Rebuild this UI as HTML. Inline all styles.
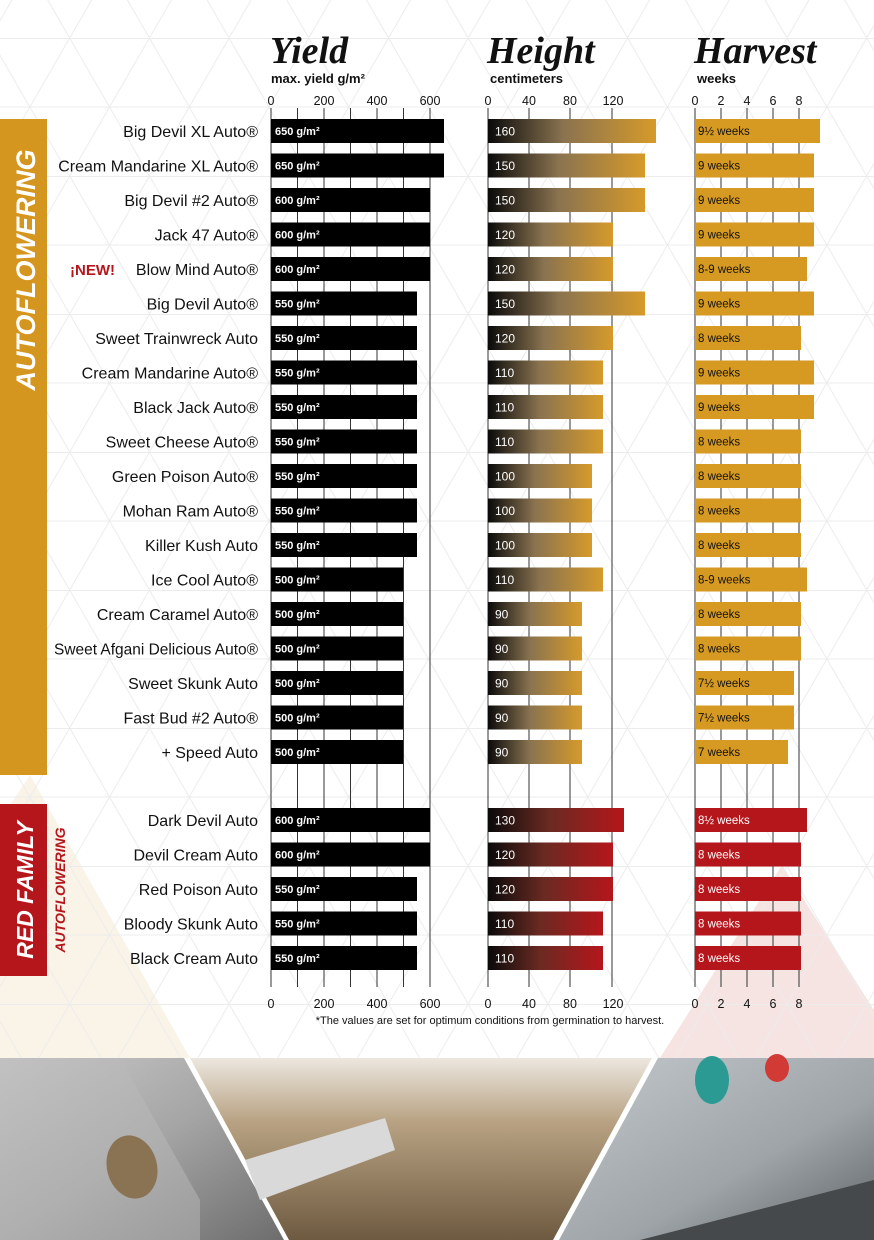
<!DOCTYPE html>
<html><head><meta charset="utf-8"><style>
html,body{margin:0;padding:0;background:#fff}
svg{display:block}
.lab{font-family:"Liberation Sans",sans-serif;font-size:16px;fill:#111;text-anchor:end}
.bv{font-family:"Liberation Sans",sans-serif;font-size:11px;font-weight:bold;fill:#fff}
.hv{font-family:"Liberation Sans",sans-serif;font-size:12px;fill:#fff}
.wv{font-family:"Liberation Sans",sans-serif;font-size:11.5px;fill:#111}
.wr{font-family:"Liberation Sans",sans-serif;font-size:11.5px;fill:#fff}
.tk{font-family:"Liberation Sans",sans-serif;font-size:12.5px;fill:#111;text-anchor:middle}
.ttl{font-family:"Liberation Serif",serif;font-style:italic;font-weight:bold;font-size:38px;fill:#111}
.sub{font-family:"Liberation Sans",sans-serif;font-weight:bold;font-size:13px;fill:#111}
</style></head><body>
<svg width="874" height="1240" viewBox="0 0 874 1240" xmlns="http://www.w3.org/2000/svg">
<defs>
<pattern id="tri" x="-10" y="38" width="79.7" height="138" patternUnits="userSpaceOnUse">
<path d="M0 138L79.7 0M0 0L79.7 138M0 0.5H79.7M0 69H79.7" stroke="#ececec" stroke-width="1" fill="none"/>
</pattern>
<linearGradient id="gy" x1="0" x2="1"><stop offset="0" stop-color="#0a0a0a"/><stop offset="0.45" stop-color="#8a7350"/><stop offset="1" stop-color="#d69a2a"/></linearGradient>
<linearGradient id="gr" x1="0" x2="1"><stop offset="0" stop-color="#0a0a0a"/><stop offset="0.45" stop-color="#6a2a22"/><stop offset="1" stop-color="#b5161b"/></linearGradient>
<linearGradient id="p1" x1="0" y1="0" x2="1" y2="1"><stop offset="0" stop-color="#c9c9c9"/><stop offset="0.5" stop-color="#a5a5a5"/><stop offset="1" stop-color="#6d6d6d"/></linearGradient>
<linearGradient id="p2" x1="0" y1="0" x2="0" y2="1"><stop offset="0" stop-color="#ece7df"/><stop offset="0.35" stop-color="#b8a283"/><stop offset="1" stop-color="#6e5a40"/></linearGradient>
<linearGradient id="p3" x1="0" y1="0" x2="1" y2="1"><stop offset="0" stop-color="#c3c8cc"/><stop offset="0.6" stop-color="#9ea4a8"/><stop offset="1" stop-color="#5d6266"/></linearGradient>
</defs>
<rect width="874" height="1240" fill="#fff"/>
<polygon points="30,775 190,1058 0,1058 0,820" fill="#faf3e8"/>
<polygon points="782,865 874,1010 874,1058 660,1058" fill="#f6e4e2"/>
<rect width="874" height="1058" fill="url(#tri)"/>

<text class="ttl" x="270" y="63">Yield</text>
<text class="sub" x="271" y="83">max. yield g/m²</text>
<text class="ttl" x="487" y="63">Height</text>
<text class="sub" x="490" y="83">centimeters</text>
<text class="ttl" x="694" y="63">Harvest</text>
<text class="sub" x="697" y="83">weeks</text>

<g class="tk">
<text x="271" y="105">0</text><text x="324" y="105">200</text><text x="377" y="105">400</text><text x="430" y="105">600</text>
<text x="488" y="105">0</text><text x="529" y="105">40</text><text x="570" y="105">80</text><text x="613" y="105">120</text>
<text x="695" y="105">0</text><text x="721" y="105">2</text><text x="747" y="105">4</text><text x="773" y="105">6</text><text x="799" y="105">8</text>
<text x="271" y="1008">0</text><text x="324" y="1008">200</text><text x="377" y="1008">400</text><text x="430" y="1008">600</text>
<text x="488" y="1008">0</text><text x="529" y="1008">40</text><text x="570" y="1008">80</text><text x="613" y="1008">120</text>
<text x="695" y="1008">0</text><text x="721" y="1008">2</text><text x="747" y="1008">4</text><text x="773" y="1008">6</text><text x="799" y="1008">8</text>
</g>
<text x="490" y="1024" text-anchor="middle" font-family="Liberation Sans,sans-serif" font-size="11px" fill="#111">*The values are set for optimum conditions from germination to harvest.</text>

<g stroke="#333" stroke-width="1">
<path d="M271 108V987M297.5 108V987M324 108V987M350.5 108V987M377 108V987M403.5 108V987M430 108V987"/>
<path d="M488 108V987M529 108V987M570 108V987M612 108V987"/>
<path d="M695 108V987M721 108V987M747 108V987M773 108V987M799 108V987"/>
</g>

<rect x="0" y="119" width="47" height="656" fill="#d4961f"/>
<text transform="translate(35,270) rotate(-90)" text-anchor="middle" font-family="Liberation Sans,sans-serif" font-weight="bold" font-style="italic" font-size="27px" fill="#fff">AUTOFLOWERING</text>
<rect x="0" y="804" width="47" height="172" fill="#b5161b"/>
<text transform="translate(33,890) rotate(-90)" text-anchor="middle" font-family="Liberation Sans,sans-serif" font-weight="bold" font-style="italic" font-size="23px" fill="#fff">RED FAMILY</text>
<text transform="translate(65,890) rotate(-90)" text-anchor="middle" font-family="Liberation Sans,sans-serif" font-weight="bold" font-style="italic" font-size="14px" fill="#b5161b">AUTOFLOWERING</text>

<g>
<g fill="#000">
<rect x="271" y="119" width="173" height="24"/>
<rect x="271" y="153.5" width="173" height="24"/>
<rect x="271" y="188" width="159" height="24"/>
<rect x="271" y="222.5" width="159" height="24"/>
<rect x="271" y="257" width="159" height="24"/>
<rect x="271" y="291.5" width="146" height="24"/>
<rect x="271" y="326" width="146" height="24"/>
<rect x="271" y="360.5" width="146" height="24"/>
<rect x="271" y="395" width="146" height="24"/>
<rect x="271" y="429.5" width="146" height="24"/>
<rect x="271" y="464" width="146" height="24"/>
<rect x="271" y="498.5" width="146" height="24"/>
<rect x="271" y="533" width="146" height="24"/>
<rect x="271" y="567.5" width="132" height="24"/>
<rect x="271" y="602" width="132" height="24"/>
<rect x="271" y="636.5" width="132" height="24"/>
<rect x="271" y="671" width="132" height="24"/>
<rect x="271" y="705.5" width="132" height="24"/>
<rect x="271" y="740" width="132" height="24"/>
<rect x="271" y="808" width="159" height="24"/>
<rect x="271" y="842.5" width="159" height="24"/>
<rect x="271" y="877" width="146" height="24"/>
<rect x="271" y="911.5" width="146" height="24"/>
<rect x="271" y="946" width="146" height="24"/>
</g>
<g fill="url(#gy)">
<rect x="488" y="119" width="168" height="24"/>
<rect x="488" y="153.5" width="157" height="24"/>
<rect x="488" y="188" width="157" height="24"/>
<rect x="488" y="222.5" width="125" height="24"/>
<rect x="488" y="257" width="125" height="24"/>
<rect x="488" y="291.5" width="157" height="24"/>
<rect x="488" y="326" width="125" height="24"/>
<rect x="488" y="360.5" width="115" height="24"/>
<rect x="488" y="395" width="115" height="24"/>
<rect x="488" y="429.5" width="115" height="24"/>
<rect x="488" y="464" width="104" height="24"/>
<rect x="488" y="498.5" width="104" height="24"/>
<rect x="488" y="533" width="104" height="24"/>
<rect x="488" y="567.5" width="115" height="24"/>
<rect x="488" y="602" width="94" height="24"/>
<rect x="488" y="636.5" width="94" height="24"/>
<rect x="488" y="671" width="94" height="24"/>
<rect x="488" y="705.5" width="94" height="24"/>
<rect x="488" y="740" width="94" height="24"/>
</g>
<g fill="url(#gr)">
<rect x="488" y="808" width="136" height="24"/>
<rect x="488" y="842.5" width="125" height="24"/>
<rect x="488" y="877" width="125" height="24"/>
<rect x="488" y="911.5" width="115" height="24"/>
<rect x="488" y="946" width="115" height="24"/>
</g>
<g fill="#d69a22">
<rect x="695" y="119" width="125" height="24"/>
<rect x="695" y="153.5" width="119" height="24"/>
<rect x="695" y="188" width="119" height="24"/>
<rect x="695" y="222.5" width="119" height="24"/>
<rect x="695" y="257" width="112" height="24"/>
<rect x="695" y="291.5" width="119" height="24"/>
<rect x="695" y="326" width="106" height="24"/>
<rect x="695" y="360.5" width="119" height="24"/>
<rect x="695" y="395" width="119" height="24"/>
<rect x="695" y="429.5" width="106" height="24"/>
<rect x="695" y="464" width="106" height="24"/>
<rect x="695" y="498.5" width="106" height="24"/>
<rect x="695" y="533" width="106" height="24"/>
<rect x="695" y="567.5" width="112" height="24"/>
<rect x="695" y="602" width="106" height="24"/>
<rect x="695" y="636.5" width="106" height="24"/>
<rect x="695" y="671" width="99" height="24"/>
<rect x="695" y="705.5" width="99" height="24"/>
<rect x="695" y="740" width="93" height="24"/>
</g>
<g fill="#b5161b">
<rect x="695" y="808" width="112" height="24"/>
<rect x="695" y="842.5" width="106" height="24"/>
<rect x="695" y="877" width="106" height="24"/>
<rect x="695" y="911.5" width="106" height="24"/>
<rect x="695" y="946" width="106" height="24"/>
</g>
</g>

<g class="lab">
<text x="258" y="137">Big Devil XL Auto®</text>
<text x="258" y="171.5">Cream Mandarine XL Auto®</text>
<text x="258" y="206">Big Devil #2 Auto®</text>
<text x="258" y="240.5">Jack 47 Auto®</text>
<text x="258" y="275">Blow Mind Auto®</text>
<text x="258" y="309.5">Big Devil Auto®</text>
<text x="258" y="344">Sweet Trainwreck Auto</text>
<text x="258" y="378.5">Cream Mandarine Auto®</text>
<text x="258" y="413">Black Jack Auto®</text>
<text x="258" y="447.5">Sweet Cheese Auto®</text>
<text x="258" y="482">Green Poison Auto®</text>
<text x="258" y="516.5">Mohan Ram Auto®</text>
<text x="258" y="551">Killer Kush Auto</text>
<text x="258" y="585.5">Ice Cool Auto®</text>
<text x="258" y="620">Cream Caramel Auto®</text>
<text x="258" y="654.5" textLength="204" lengthAdjust="spacingAndGlyphs">Sweet Afgani Delicious Auto®</text>
<text x="258" y="689">Sweet Skunk Auto</text>
<text x="258" y="723.5">Fast Bud #2 Auto®</text>
<text x="258" y="758">+ Speed Auto</text>
<text x="258" y="826">Dark Devil Auto</text>
<text x="258" y="860.5">Devil Cream Auto</text>
<text x="258" y="895">Red Poison Auto</text>
<text x="258" y="929.5">Bloody Skunk Auto</text>
<text x="258" y="964">Black Cream Auto</text>
</g>
<text x="70" y="275" font-family="Liberation Sans,sans-serif" font-weight="bold" font-size="15px" fill="#b5161b">¡NEW!</text>

<g class="bv">
<text x="275" y="135">650 g/m²</text><text x="275" y="169.5">650 g/m²</text><text x="275" y="204">600 g/m²</text><text x="275" y="238.5">600 g/m²</text><text x="275" y="273">600 g/m²</text>
<text x="275" y="307.5">550 g/m²</text><text x="275" y="342">550 g/m²</text><text x="275" y="376.5">550 g/m²</text><text x="275" y="411">550 g/m²</text><text x="275" y="445.5">550 g/m²</text>
<text x="275" y="480">550 g/m²</text><text x="275" y="514.5">550 g/m²</text><text x="275" y="549">550 g/m²</text><text x="275" y="583.5">500 g/m²</text><text x="275" y="618">500 g/m²</text>
<text x="275" y="652.5">500 g/m²</text><text x="275" y="687">500 g/m²</text><text x="275" y="721.5">500 g/m²</text><text x="275" y="756">500 g/m²</text>
<text x="275" y="824">600 g/m²</text><text x="275" y="858.5">600 g/m²</text><text x="275" y="893">550 g/m²</text><text x="275" y="927.5">550 g/m²</text><text x="275" y="962">550 g/m²</text>
</g>
<g class="hv">
<text x="495" y="135.5">160</text><text x="495" y="170">150</text><text x="495" y="204.5">150</text><text x="495" y="239">120</text><text x="495" y="273.5">120</text>
<text x="495" y="308">150</text><text x="495" y="342.5">120</text><text x="495" y="377">110</text><text x="495" y="411.5">110</text><text x="495" y="446">110</text>
<text x="495" y="480.5">100</text><text x="495" y="515">100</text><text x="495" y="549.5">100</text><text x="495" y="584">110</text><text x="495" y="618.5">90</text>
<text x="495" y="653">90</text><text x="495" y="687.5">90</text><text x="495" y="722">90</text><text x="495" y="756.5">90</text>
<text x="495" y="824.5">130</text><text x="495" y="859">120</text><text x="495" y="893.5">120</text><text x="495" y="928">110</text><text x="495" y="962.5">110</text>
</g>
<g class="wv">
<text x="698" y="135">9½ weeks</text><text x="698" y="169.5">9 weeks</text><text x="698" y="204">9 weeks</text><text x="698" y="238.5">9 weeks</text><text x="698" y="273">8-9 weeks</text>
<text x="698" y="307.5">9 weeks</text><text x="698" y="342">8 weeks</text><text x="698" y="376.5">9 weeks</text><text x="698" y="411">9 weeks</text><text x="698" y="445.5">8 weeks</text>
<text x="698" y="480">8 weeks</text><text x="698" y="514.5">8 weeks</text><text x="698" y="549">8 weeks</text><text x="698" y="583.5">8-9 weeks</text><text x="698" y="618">8 weeks</text>
<text x="698" y="652.5">8 weeks</text><text x="698" y="687">7½ weeks</text><text x="698" y="721.5">7½ weeks</text><text x="698" y="756">7 weeks</text>
</g>
<g class="wr">
<text x="698" y="824">8½ weeks</text><text x="698" y="858.5">8 weeks</text><text x="698" y="893">8 weeks</text><text x="698" y="927.5">8 weeks</text><text x="698" y="962">8 weeks</text>
</g>

<rect x="0" y="1058" width="874" height="182" fill="#fff"/>
<polygon points="0,1058 184,1058 284,1240 0,1240" fill="url(#p1)"/>
<polygon points="0,1058 120,1058 200,1200 200,1240 0,1240" fill="#b9b9b9" opacity="0.5"/>
<ellipse cx="132" cy="1167" rx="25" ry="32" fill="#8a7352" transform="rotate(-15 132 1167)"/>
<polygon points="190,1058 652,1058 553,1240 289,1240" fill="url(#p2)"/>
<polygon points="245,1160 385,1118 395,1150 260,1200" fill="#d9d9d9"/>
<polygon points="658,1058 874,1058 874,1240 559,1240" fill="url(#p3)"/>
<ellipse cx="712" cy="1080" rx="17" ry="24" fill="#2a9a93"/>
<ellipse cx="777" cy="1068" rx="12" ry="14" fill="#d23a36"/>
<polygon points="640,1240 874,1180 874,1240" fill="#45494b"/>
</svg>
</body></html>
